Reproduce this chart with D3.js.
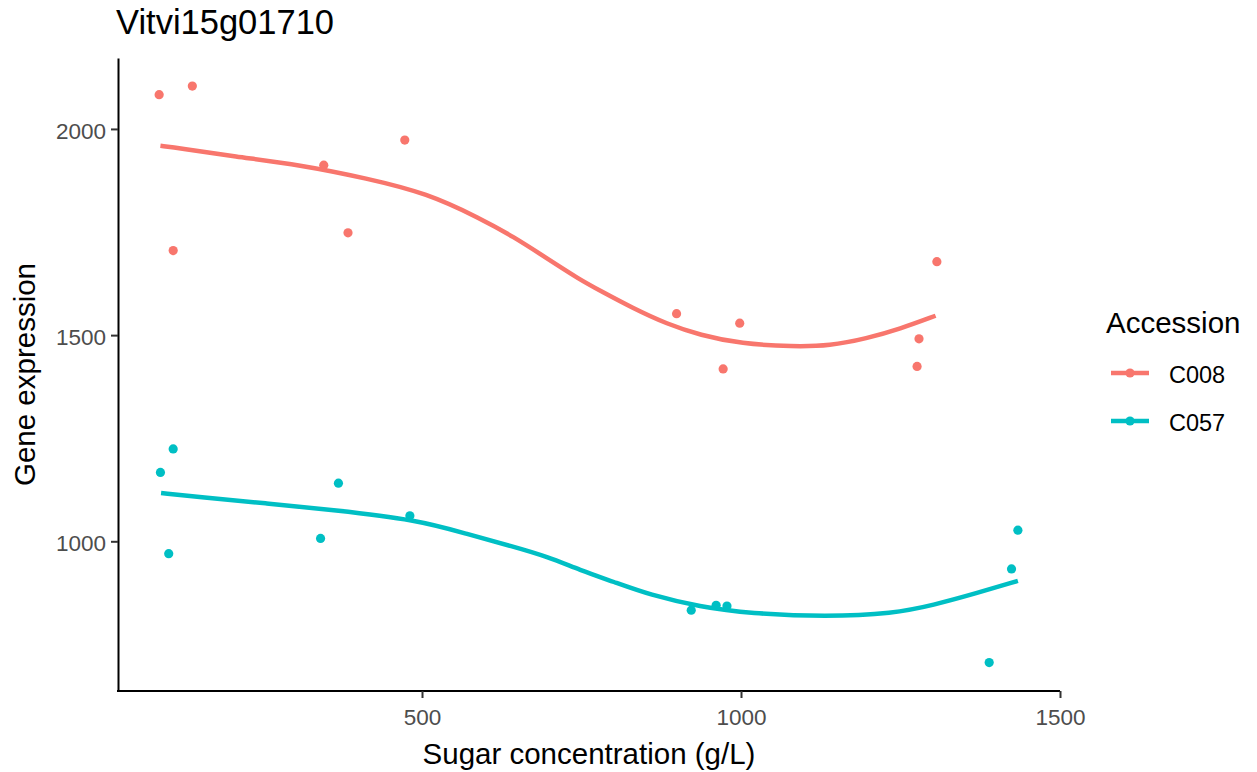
<!DOCTYPE html>
<html>
<head>
<meta charset="utf-8">
<script src="https://cdn.jsdelivr.net/npm/d3@7"></script>
<style>
   body { margin: 0; background: #fff; }
   svg text { font-family: "Liberation Sans", Arial, sans-serif; }
</style>
</head>
<body>
<div id="chart"></div>
<script>
// accession groups and colours (ggplot defaults for two levels)
var accessions = ["C008", "C057"];
var colors = ["#F8766D", "#00BFC4"];

// raw measurements: sugar concentration (g/L) and gene expression
var c008_sugar = [88, 140, 110, 346, 384, 473, 899, 998, 972, 1279, 1276, 1307];
var c008_expr  = [2083, 2104, 1705, 1912, 1748, 1973, 1552, 1529, 1418, 1491, 1424, 1678];
var c057_sugar = [110, 90, 103, 369, 341, 481, 922, 961, 978, 1434, 1424, 1389];
var c057_expr  = [1224, 1167, 970, 1141, 1007, 1062, 833, 845, 843, 1027, 933, 706];

// loess smooth lines
var c008_fit_x = [90, 121, 205, 309, 414, 508, 591, 643, 696, 748, 779, 831, 884, 936, 1000, 1082, 1139, 1197, 1249, 1305];
var c008_fit_y = [1959, 1953, 1933, 1913, 1880, 1844, 1783, 1739, 1686, 1634, 1608, 1565, 1527, 1500, 1479, 1472, 1474, 1492, 1515, 1547];
var c057_fit_x = [91, 152, 257, 361, 492, 570, 643, 696, 748, 800, 857, 936, 1014, 1134, 1239, 1301, 1369, 1434];
var c057_fit_y = [1117, 1107, 1092, 1076, 1052, 1018, 987, 963, 930, 902, 870, 841, 825, 817, 825, 845, 874, 904];

var x_ticks = [500, 1000, 1500];
var y_ticks = [1000, 1500, 2000];
var x_limits = [23.5, 1500];
var y_limits = [637, 2172];

/**Zips two arrays into a list of {x, y} objects so d3 can use them.
 * @param {*} xs x values
 * @param {*} ys y values
 */
function zip_points(xs, ys) {
   var out = [];
   for (var i = 0; i != xs.length; ++i) {
      out.push({x: xs[i], y: ys[i]});
   }
   return out;
}

var series = [
   {name: accessions[0], color: colors[0], points: zip_points(c008_sugar, c008_expr), fit: zip_points(c008_fit_x, c008_fit_y)},
   {name: accessions[1], color: colors[1], points: zip_points(c057_sugar, c057_expr), fit: zip_points(c057_fit_x, c057_fit_y)}
];

/**Draws the whole plot: panel, smooth lines, points, axes and legend.
 */
function draw_chart() {

   var W = 1257, H = 772;
   var panel = {left: 118, right: 1060, top: 58, bottom: 691};
   var pt_r = 4.6;

   var svg = d3.select("#chart")
               .append("svg")
               .attr("width", W)
               .attr("height", H);

   var x = d3.scaleLinear().domain(x_limits).range([panel.left, panel.right]);
   var y = d3.scaleLinear().domain(y_limits).range([panel.bottom, panel.top]);

   var line = d3.line()
                .x(function(d) { return x(d.x); })
                .y(function(d) { return y(d.y); })
                .curve(d3.curveBasis);

   // points first, smooth lines on top (as in geom_point + geom_smooth)
   series.forEach(function(s) {
      svg.append("g")
         .selectAll("circle")
         .data(s.points)
         .enter()
         .append("circle")
         .attr("cx", function(d) { return x(d.x); })
         .attr("cy", function(d) { return y(d.y); })
         .attr("r", pt_r)
         .attr("fill", s.color);
   });
   series.forEach(function(s) {
      svg.append("path")
         .datum(s.fit)
         .attr("fill", "none")
         .attr("stroke", s.color)
         .attr("stroke-width", 4.5)
         .attr("d", line);
   });

   // axes
   var xAxis = svg.append("g")
                  .attr("transform", "translate(0," + panel.bottom + ")")
                  .call(d3.axisBottom(x).tickValues(x_ticks).tickFormat(d3.format("d"))
                          .tickSize(7).tickPadding(6).tickSizeOuter(0));
   var yAxis = svg.append("g")
                  .attr("transform", "translate(" + panel.left + ",0)")
                  .call(d3.axisLeft(y).tickValues(y_ticks).tickFormat(d3.format("d"))
                          .tickSize(7).tickPadding(5).tickSizeOuter(0));

   [xAxis, yAxis].forEach(function(a) {
      a.select(".domain").attr("stroke", "#000").attr("stroke-width", 2);
      a.selectAll(".tick line").attr("stroke", "#333").attr("stroke-width", 2);
      a.selectAll(".tick text")
       .attr("fill", "#4D4D4D")
       .style("font-size", "22.5px");
   });
   xAxis.selectAll(".tick text").attr("dy", "0.95em");
   yAxis.selectAll(".tick text").attr("dy", "0.42em");
   // close the corner where the two axis lines meet
   xAxis.select(".domain").attr("d", "M" + (panel.left - 1) + ",0H" + panel.right);

   // title and axis titles
   svg.append("text")
      .attr("x", panel.left - 2)
      .attr("y", 34)
      .style("font-size", "34.5px")
      .attr("fill", "#000")
      .text("Vitvi15g01710");

   svg.append("text")
      .attr("x", (panel.left + panel.right) / 2)
      .attr("y", 764)
      .attr("text-anchor", "middle")
      .style("font-size", "29.5px")
      .text("Sugar concentration (g/L)");

   svg.append("text")
      .attr("transform", "translate(35," + ((panel.top + panel.bottom) / 2) + ") rotate(-90)")
      .attr("text-anchor", "middle")
      .style("font-size", "29.5px")
      .text("Gene expression");

   // legend
   var legend = svg.append("g");
   legend.append("text")
         .attr("x", 1106)
         .attr("y", 333)
         .style("font-size", "29.5px")
         .text("Accession");

   var key_y = d3.scalePoint().domain(accessions).range([373, 421]);
   series.forEach(function(s) {
      var ky = key_y(s.name);
      legend.append("line")
            .attr("x1", 1111).attr("x2", 1149)
            .attr("y1", ky).attr("y2", ky)
            .attr("stroke", s.color)
            .attr("stroke-width", 4.5);
      legend.append("circle")
            .attr("cx", 1130).attr("cy", ky)
            .attr("r", pt_r)
            .attr("fill", s.color);
      legend.append("text")
            .attr("x", 1169)
            .attr("y", ky + 10)
            .style("font-size", "23.5px")
            .text(s.name);
   });
}

draw_chart();
</script>
</body>
</html>
